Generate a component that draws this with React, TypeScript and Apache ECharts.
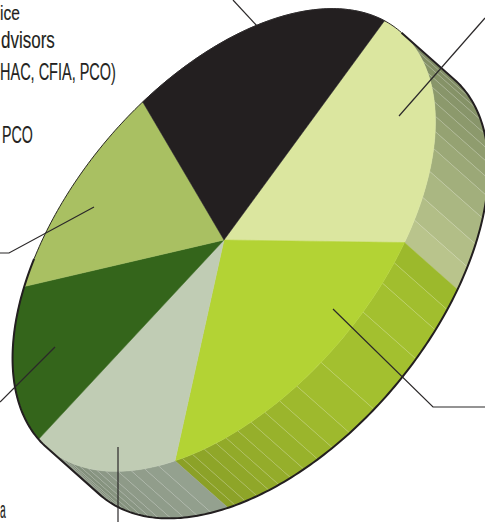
import React, { useEffect, useRef } from "react";
import * as echarts from "echarts";

// Share of each wedge, clockwise from the black wedge's right edge.
const sliceShares = [20, 20, 13.3, 13.3, 13.4, 20];
const sliceColors = ["#dbe69f", "#b3d334", "#c0ccb4", "#34651b", "#a9c062", "#231f20"];

// Seams on the visible side wall of the first three wedges, in degrees round the disc.
const wallSeams = [
  [1, 5, 9.8, 14, 18.5, 23.2, 28, 32.3, 36.7, 41.4, 47.4, 54, 59.7, 65.3],
  [65.3, 70.3, 75.4, 82.8, 96.6, 103.8, 108.7, 112.8, 116.6, 120.2, 123.4, 126.1, 129.3, 132.5, 135.3, 137.3],
  [137.3, 142, 146, 150, 154, 158, 161, 164, 167, 170, 172, 174, 176, 178, 181],
];
// Wall shade along each wedge: [degrees, r, g, b].
const wallShades = [
  [[1, 122, 134, 96], [30, 143, 156, 110], [50, 169, 182, 129], [65.3, 188, 199, 143]],
  [[65.3, 154, 183, 43], [75, 163, 192, 47], [96, 163, 192, 47], [104, 159, 187, 45], [116, 151, 177, 43], [126, 145, 169, 41], [137.3, 138, 159, 39]],
  [[137.3, 149, 162, 144], [160, 140, 152, 134], [181, 118, 131, 109]],
];

const labelLines = [
  { text: "ice", left: 0, bottom: 23, squeeze: 0.78, size: 20 },
  { text: "dvisors", left: 1, bottom: 52, squeeze: 0.74, size: 23 },
  { text: "HAC, CFIA, PCO)", left: 0, bottom: 84, squeeze: 0.63, size: 23 },
  { text: "PCO", left: 2, bottom: 147, squeeze: 0.62, size: 23 },
  { text: "a", left: 0, bottom: 522, squeeze: 0.45, size: 23 },
];
const leaders = [
  [[233, 0], [257, 26]],
  [[399, 116], [485, 18]],
  [[333, 309], [433, 407], [485, 407]],
  [[94, 207], [9, 253], [0, 253]],
  [[55, 347], [0, 402]],
  [[118, 447], [118, 522]],
];

const disc = { cx: 224, cy: 240, a: 273, b: 154, tilt: 50, dx: 53, dy: 47, start: -6.7 };
const rad = Math.PI / 180;
const ux = Math.cos(disc.tilt * rad);
const uy = -Math.sin(disc.tilt * rad);
const vx = -uy;
const vy = ux;

function rimPoint(deg: number, drop = false): number[] {
  const p = disc.a * Math.cos(deg * rad);
  const q = disc.b * Math.sin(deg * rad);
  return [
    disc.cx + p * ux + q * vx + (drop ? disc.dx : 0),
    disc.cy + p * uy + q * vy + (drop ? disc.dy : 0),
  ];
}

function arcPoints(from: number, to: number, drop = false): number[][] {
  const steps = Math.max(2, Math.ceil(Math.abs(to - from)));
  const pts: number[][] = [];
  for (let i = 0; i <= steps; i++) pts.push(rimPoint(from + ((to - from) * i) / steps, drop));
  return pts;
}

function shadeAt(stops: number[][], deg: number): string {
  let i = 0;
  while (i < stops.length - 2 && deg > stops[i + 1][0]) i++;
  const [t0, r0, g0, b0] = stops[i];
  const [t1, r1, g1, b1] = stops[i + 1];
  const k = Math.min(1, Math.max(0, (deg - t0) / (t1 - t0)));
  const mix = (a: number, b: number) => Math.round(a + (b - a) * k);
  return `rgb(${mix(r0, r1)},${mix(g0, g1)},${mix(b0, b1)})`;
}

function wallChildren(index: number) {
  const seams = wallSeams[index];
  const stops = wallShades[index];
  if (!seams) return [];
  const out: any[] = [];
  for (let i = 0; i < seams.length - 1; i++) {
    const top = arcPoints(seams[i], seams[i + 1]);
    const low = arcPoints(seams[i + 1], seams[i], true);
    const fill = shadeAt(stops, (seams[i] + seams[i + 1]) / 2);
    out.push({
      type: "polygon",
      shape: { points: top.concat(low) },
      style: { fill, stroke: fill, lineWidth: 0.4 },
    });
  }
  seams.slice(1, -1).forEach((t) => {
    const p = rimPoint(t);
    const q = rimPoint(t, true);
    out.push({
      type: "line",
      shape: { x1: p[0], y1: p[1], x2: q[0], y2: q[1] },
      style: { stroke: "rgba(255,255,255,0.3)", lineWidth: 0.7 },
    });
  });
  return out;
}

function renderWedge(params: any, api: any) {
  const index = params.dataIndex;
  const before = sliceShares.slice(0, index).reduce((s, v) => s + v, 0);
  const from = disc.start + (before / 100) * 360;
  const to = from + (api.value(0) / 100) * 360;
  const color = sliceColors[index];
  return {
    type: "group",
    children: [
      ...wallChildren(index),
      {
        type: "polygon",
        shape: { points: [[disc.cx, disc.cy], ...arcPoints(from, to)] },
        style: { fill: color, stroke: color, lineWidth: 0.5 },
      },
    ],
  };
}

function renderRim() {
  const heavy = [...arcPoints(1, 181, true), ...arcPoints(181, 240)];
  heavy.unshift(rimPoint(1));
  return {
    type: "group",
    children: [
      {
        type: "polyline",
        shape: { points: heavy },
        style: { fill: "none", stroke: "#231f20", lineWidth: 2 },
      },
      {
        type: "polyline",
        shape: { points: arcPoints(240, 361) },
        style: { fill: "none", stroke: "#2b2829", lineWidth: 1 },
      },
    ],
  };
}

export default function App() {
  const ref = useRef<HTMLDivElement>(null);
  useEffect(() => {
    const chart = echarts.init(ref.current!, undefined, { renderer: "svg" });
    chart.setOption({
      animation: false,
      backgroundColor: "#ffffff",
      series: [
        {
          type: "custom",
          coordinateSystem: "none",
          silent: true,
          data: sliceShares.map((v) => [v]),
          renderItem: renderWedge,
        },
        {
          type: "custom",
          coordinateSystem: "none",
          silent: true,
          z: 3,
          data: [[0]],
          renderItem: renderRim,
        },
      ],
      graphic: [
        ...leaders.map((pts) => ({
          type: "polyline",
          z: 10,
          silent: true,
          shape: { points: pts },
          style: { fill: "none", stroke: "#2b2829", lineWidth: 1.2 },
        })),
        ...labelLines.map((l) => ({
          type: "text",
          z: 10,
          silent: true,
          x: l.left,
          y: l.bottom,
          scaleX: l.squeeze,
          style: {
            text: l.text,
            fontFamily: "'Liberation Sans'",
            fontSize: l.size,
            fill: "#231f20",
            stroke: "#231f20",
            lineWidth: 0.15,
            align: "left",
            verticalAlign: "bottom",
          },
        })),
      ],
    });
    return () => chart.dispose();
  }, []);
  return (
    <div
      ref={ref}
      style={{ position: "absolute", left: 0, top: 0, width: 485, height: 522, overflow: "hidden" }}
    />
  );
}
